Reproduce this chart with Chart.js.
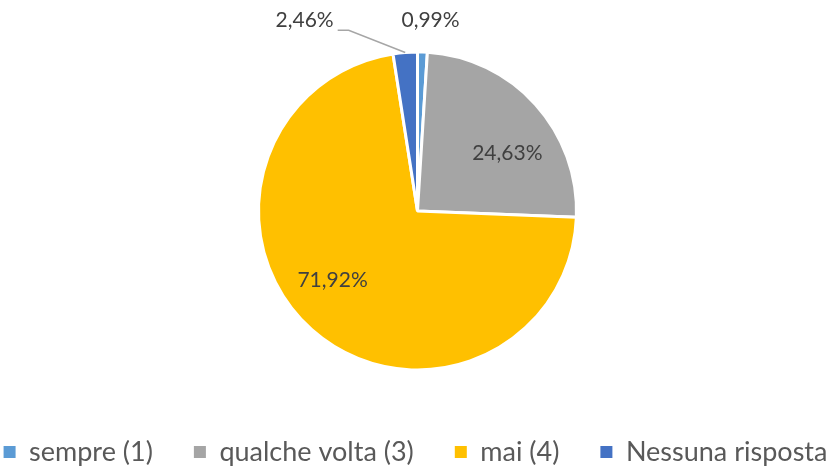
<!DOCTYPE html>
<html>
<head>
<meta charset="utf-8">
<script src="https://cdn.jsdelivr.net/npm/chart.js@4"></script>
<style>
html,body{margin:0;padding:0;background:#fff}
</style>
</head>
<body>
<canvas id="myChart" width="835" height="466"></canvas>
<script>
// data
const categories = ['sempre (1)', 'qualche volta (3)', 'mai (4)', 'Nessuna risposta']
const percentages = [0.99, 24.63, 71.92, 2.46]
const sliceColors = ['#5B9BD5', '#A5A5A5', '#FFC000', '#4472C4']

const fmtPct = v => v.toFixed(2).replace('.', ',') + '%'

// where each value label goes, in units of the pie radius from the centre
const labelSpots = [
  {dx: 0.082, dy: -1.2},
  {dx: 0.565, dy: -0.364},
  {dx: -0.534, dy: 0.433},
  {dx: -0.71, dy: -1.2, leader: true},
]

const pieLabels = {
  id: 'pieLabels',
  afterDatasetsDraw(chart) {
    const ctx = chart.ctx
    const meta = chart.getDatasetMeta(0)
    ctx.save()
    ctx.font = '21px Lato'
    ctx.fillStyle = '#404040'
    ctx.textAlign = 'center'
    ctx.textBaseline = 'middle'
    meta.data.forEach((arc, i) => {
      const spot = labelSpots[i]
      const r = arc.outerRadius
      const x = arc.x + spot.dx * r
      const y = arc.y + spot.dy * r
      const txt = fmtPct(percentages[i])
      ctx.fillText(txt, x, y)
      if (spot.leader) {
        const w = ctx.measureText(txt).width
        const mid = (arc.startAngle + arc.endAngle) / 2
        ctx.beginPath()
        ctx.strokeStyle = '#A6A6A6'
        ctx.lineWidth = 1.5
        ctx.moveTo(x + w / 2 + 4, y + 10)
        ctx.lineTo(x + w / 2 + 15, y + 10)
        ctx.lineTo(arc.x + Math.cos(mid) * r * 1.0, arc.y + Math.sin(mid) * r * 1.0)
        ctx.stroke()
      }
    })
    ctx.restore()
  }
}

const ctx = document.getElementById('myChart')
const myChart = new Chart(ctx, {
  type: 'pie',
  data: {
    labels: categories,
    datasets: [{
      data: percentages,
      backgroundColor: sliceColors,
      borderColor: '#ffffff',
      borderWidth: 3,
      radius: 159,
    }],
  },
  options: {
    responsive: false,
    animation: false,
    layout: {
      padding: {top: 24.5, bottom: -9.5, left: -82, right: -78},
    },
    plugins: {
      tooltip: {enabled: false},
      legend: {
        position: 'bottom',
        labels: {
          boxWidth: 12,
          boxHeight: 12,
          padding: 41,
          color: '#595959',
          font: {family: 'Lato', size: 27},
          generateLabels: chart => categories.map((name, i) => ({
            text: name,
            fillStyle: sliceColors[i],
            strokeStyle: sliceColors[i],
            lineWidth: 0,
            fontColor: '#595959',
            hidden: false,
            index: i,
          })),
        },
      },
    },
  },
  plugins: [pieLabels],
})
</script>
</body>
</html>
